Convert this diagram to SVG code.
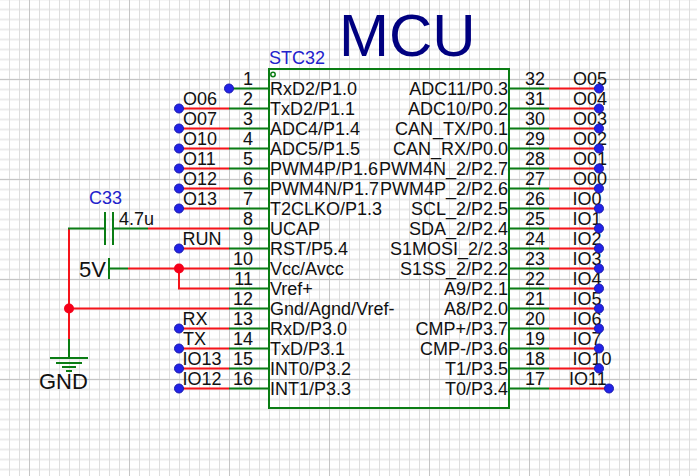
<svg xmlns="http://www.w3.org/2000/svg" width="697" height="476" viewBox="0 0 697 476">
<defs>
<pattern id="gridH" x="0" y="8" width="10" height="10" patternUnits="userSpaceOnUse"><path d="M0 1.500H10" fill="none" stroke="#ebebeb" stroke-width="2"/></pattern>
<pattern id="gridV" x="9" y="0" width="10" height="10" patternUnits="userSpaceOnUse"><path d="M0.500 0V10" fill="none" stroke="#dedede" stroke-width="1"/></pattern>
<pattern id="gridMajor" x="29" y="79" width="100" height="100" patternUnits="userSpaceOnUse"><path d="M0.500 0V100M0 0.500H100" fill="none" stroke="#c6c6c6" stroke-width="1"/></pattern>
</defs>
<style>
text{font-family:"Liberation Sans",Arial,sans-serif;fill:#111;font-size:18px}
.pn{text-anchor:end}
.r{text-anchor:end}
.g{fill:none;stroke:#0a7d14;stroke-width:2}
.w{fill:none;stroke:#f5141a;stroke-width:2}
.d{fill:#2222e6;stroke:#1a1ab0;stroke-width:1}
.j{fill:#f5001a}
.blue{fill:#2222cc}
.big{font-size:22px}
</style>
<rect width="697" height="476" fill="#fff"/>
<rect width="697" height="476" fill="url(#gridH)"/>
<rect width="697" height="476" fill="url(#gridV)"/>
<rect width="697" height="476" fill="url(#gridMajor)"/>
<text x="339" y="56" style="fill:#000080;font-size:60px">MCU</text>
<g id="connectors">
<path class="g" d="M229 88.500H269M229 108.500H269M229 128.500H269M229 148.500H269M229 168.500H269M229 188.500H269M229 208.500H269M229 228.500H269M229 248.500H269M229 268.500H269M229 288.500H269M229 308.500H269M229 328.500H269M229 348.500H269M229 368.500H269M229 388.500H269"/>
<path class="g" d="M509 88.500H549M509 108.500H549M509 128.500H549M509 148.500H549M509 168.500H549M509 188.500H549M509 208.500H549M509 228.500H549M509 248.500H549M509 268.500H549M509 288.500H549M509 308.500H549M509 328.500H549M509 348.500H549M509 368.500H549M509 388.500H549"/>
<path class="w" d="M179 108.500H229M179 128.500H229M179 148.500H229M179 168.500H229M179 188.500H229M179 208.500H229M179 248.500H229M179 328.500H229M179 348.500H229M179 368.500H229M179 388.500H229"/>
<path class="w" d="M549 88.500H599M549 108.500H599M549 128.500H599M549 148.500H599M549 168.500H599M549 188.500H599M549 208.500H599M549 228.500H599M549 248.500H599M549 268.500H599M549 288.500H599M549 308.500H599M549 328.500H599M549 348.500H599M549 368.500H599M549 388.500H609"/>
<path class="w" d="M148 228.500H229M128 268.500H229M179 268.500V288.500H229M69 308.500H229M69 228.500V339"/>
<path class="g" d="M68 228.500H105M113 228.500H148M109 268.500H128M69 339V358"/>
<path class="g" d="M105 212V245M113 212V245M109 258V279"/>
<path class="g" d="M50 358H88M56 363H82M62 367H76M66 371H72"/>
</g>
<g id="U1">
<rect class="g" x="269" y="69" width="240" height="339"/>
<circle cx="273" cy="74.500" r="2.200" fill="none" stroke="#0a7d14" stroke-width="1.500"/>
<text x="269" y="64" style="fill:#2222cc">STC32</text>
<text x="270" y="95">RxD2/P1.0</text><text x="270" y="115">TxD2/P1.1</text><text x="270" y="135">ADC4/P1.4</text><text x="270" y="155">ADC5/P1.5</text><text x="270" y="175">PWM4P/P1.6</text><text x="270" y="195">PWM4N/P1.7</text><text x="270" y="215">T2CLKO/P1.3</text><text x="270" y="235">UCAP</text><text x="270" y="255">RST/P5.4</text><text x="270" y="275">Vcc/Avcc</text><text x="270" y="295">Vref+</text><text x="270" y="315">Gnd/Agnd/Vref-</text><text x="270" y="335">RxD/P3.0</text><text x="270" y="355">TxD/P3.1</text><text x="270" y="375">INT0/P3.2</text><text x="270" y="395">INT1/P3.3</text>
<g class="r">
<text x="508" y="95">ADC11/P0.3</text><text x="508" y="115">ADC10/P0.2</text><text x="508" y="135">CAN_TX/P0.1</text><text x="508" y="155">CAN_RX/P0.0</text><text x="508" y="175">PWM4N_2/P2.7</text><text x="508" y="195">PWM4P_2/P2.6</text><text x="508" y="215">SCL_2/P2.5</text><text x="508" y="235">SDA_2/P2.4</text><text x="508" y="255">S1MOSI_2/2.3</text><text x="508" y="275">S1SS_2/P2.2</text><text x="508" y="295">A9/P2.1</text><text x="508" y="315">A8/P2.0</text><text x="508" y="335">CMP+/P3.7</text><text x="508" y="355">CMP-/P3.6</text><text x="508" y="375">T1/P3.5</text><text x="508" y="395">T0/P3.4</text>
</g>
<g class="pn">
<text x="253" y="85">1</text><text x="253" y="105">2</text><text x="253" y="125">3</text><text x="253" y="145">4</text><text x="253" y="165">5</text><text x="253" y="185">6</text><text x="253" y="205">7</text><text x="253" y="225">8</text><text x="253" y="245">9</text><text x="253" y="265">10</text><text x="253" y="285">11</text><text x="253" y="305">12</text><text x="253" y="325">13</text><text x="253" y="345">14</text><text x="253" y="365">15</text><text x="253" y="385">16</text>
</g>
<text x="525" y="85">32</text><text x="525" y="105">31</text><text x="525" y="125">30</text><text x="525" y="145">29</text><text x="525" y="165">28</text><text x="525" y="185">27</text><text x="525" y="205">26</text><text x="525" y="225">25</text><text x="525" y="245">24</text><text x="525" y="265">23</text><text x="525" y="285">22</text><text x="525" y="305">21</text><text x="525" y="325">20</text><text x="525" y="345">19</text><text x="525" y="365">18</text><text x="525" y="385">17</text>
</g>
<g id="net-labels">
<text x="183" y="105">O06</text><text x="183" y="125">O07</text><text x="183" y="145">O10</text><text x="183" y="165">O11</text><text x="183" y="185">O12</text><text x="183" y="205">O13</text><text x="182.500" y="245">RUN</text><text x="182.500" y="325">RX</text><text x="183" y="345">TX</text><text x="182.500" y="365">IO13</text><text x="182.500" y="385">IO12</text>
<text x="573" y="85">O05</text><text x="573" y="105">O04</text><text x="573" y="125">O03</text><text x="573" y="145">O02</text><text x="573" y="165">O01</text><text x="573" y="185">O00</text><text x="572.500" y="205">IO0</text><text x="572.500" y="225">IO1</text><text x="572.500" y="245">IO2</text><text x="572.500" y="265">IO3</text><text x="572.500" y="285">IO4</text><text x="572.500" y="305">IO5</text><text x="572.500" y="325">IO6</text><text x="572.500" y="345">IO7</text><text x="572.500" y="365">IO10</text><text x="569" y="385">IO11</text>
</g>
<g id="net-flags">
<circle class="d" cx="229" cy="88.500" r="4.500"/>
<circle class="d" cx="179" cy="108.500" r="4.500"/><circle class="d" cx="179" cy="128.500" r="4.500"/><circle class="d" cx="179" cy="148.500" r="4.500"/><circle class="d" cx="179" cy="168.500" r="4.500"/><circle class="d" cx="179" cy="188.500" r="4.500"/><circle class="d" cx="179" cy="208.500" r="4.500"/><circle class="d" cx="179" cy="248.500" r="4.500"/><circle class="d" cx="179" cy="328.500" r="4.500"/><circle class="d" cx="179" cy="348.500" r="4.500"/><circle class="d" cx="179" cy="368.500" r="4.500"/><circle class="d" cx="179" cy="388.500" r="4.500"/>
<circle class="d" cx="599" cy="88.500" r="4.500"/><circle class="d" cx="599" cy="108.500" r="4.500"/><circle class="d" cx="599" cy="128.500" r="4.500"/><circle class="d" cx="599" cy="148.500" r="4.500"/><circle class="d" cx="599" cy="168.500" r="4.500"/><circle class="d" cx="599" cy="188.500" r="4.500"/><circle class="d" cx="599" cy="208.500" r="4.500"/><circle class="d" cx="599" cy="228.500" r="4.500"/><circle class="d" cx="599" cy="248.500" r="4.500"/><circle class="d" cx="599" cy="268.500" r="4.500"/><circle class="d" cx="599" cy="288.500" r="4.500"/><circle class="d" cx="599" cy="308.500" r="4.500"/><circle class="d" cx="599" cy="328.500" r="4.500"/><circle class="d" cx="599" cy="348.500" r="4.500"/><circle class="d" cx="599" cy="368.500" r="4.500"/><circle class="d" cx="609" cy="388.500" r="4.500"/>
</g>
<g id="C33">
<text x="89" y="204" style="fill:#2222cc">C33</text>
<text x="119" y="225">4.7u</text>
</g>
<g id="V5"><text x="79" y="277" class="big">5V</text></g>
<g id="GND"><text x="39" y="389" class="big">GND</text></g>
<g id="junctions">
<circle class="j" cx="179" cy="268.500" r="5"/>
<circle class="j" cx="69" cy="308.500" r="5"/>
</g>
</svg>
